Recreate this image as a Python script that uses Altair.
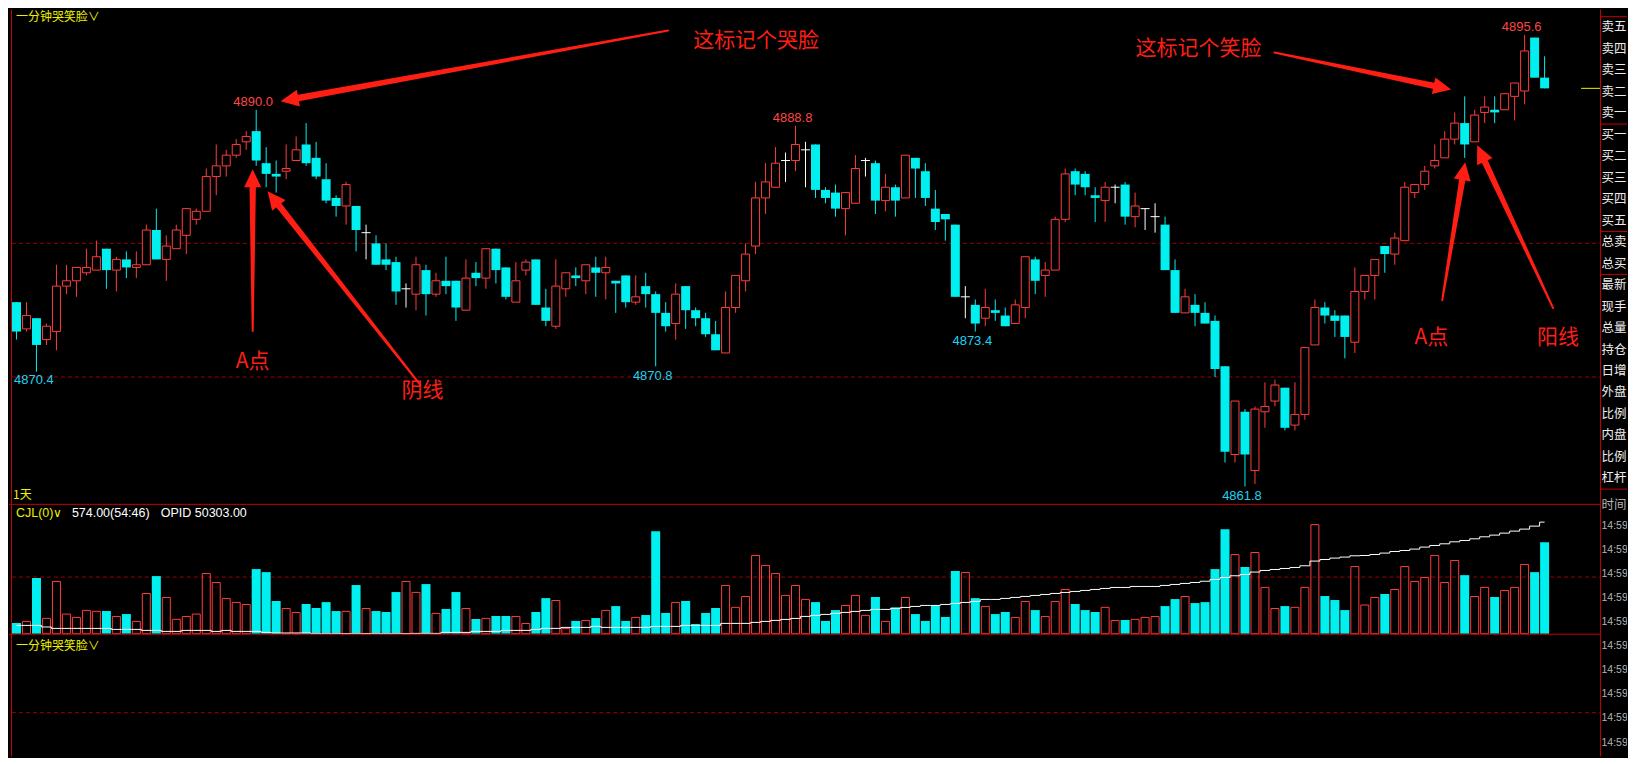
import math
import pandas as pd
import altair as alt

# ---------------- data ----------------
OPEN = [
    4875.6, 4873.6, 4874.4, 4872.8, 4873.4, 4876.8, 4877.2, 4877.8, 4878.0, 4879.6,
    4878.0, 4878.8, 4878.2, 4878.4, 4881.0, 4878.8, 4879.6, 4880.6, 4881.8, 4882.4,
    4885.0, 4885.8, 4886.6, 4887.6, 4888.4, 4886.0, 4885.2, 4885.4, 4886.2, 4887.4,
    4886.4, 4884.8, 4883.4, 4882.8, 4882.8, 4880.8, 4880.0, 4878.8, 4878.6, 4876.6,
    4876.2, 4878.0, 4876.2, 4877.2, 4877.2, 4875.0, 4877.8, 4877.4, 4879.6, 4878.2,
    4875.6, 4878.0, 4878.8, 4875.2, 4873.8, 4876.6, 4877.6, 4877.2, 4878.2, 4877.8,
    4877.2, 4877.6, 4875.6, 4876.8, 4876.2, 4874.8, 4874.0, 4876.8, 4875.0, 4874.4,
    4873.2, 4871.8, 4875.2, 4877.2, 4879.8, 4883.4, 4884.2, 4886.2, 4886.2, 4887.0,
    4887.4, 4884.0, 4883.8, 4882.6, 4883.0, 4886.2, 4886.0, 4883.2, 4884.2, 4883.4,
    4886.4, 4885.4, 4882.6, 4882.2, 4881.4, 4876.0, 4875.4, 4874.4, 4875.0, 4874.6,
    4874.0, 4875.2, 4878.8, 4877.6, 4878.0, 4881.8, 4885.4, 4885.2, 4883.6, 4883.2,
    4884.2, 4884.4, 4882.0, 4882.6, 4882.0, 4881.4, 4878.0, 4874.8, 4875.4, 4874.8,
    4874.2, 4870.8, 4864.2, 4867.4, 4863.0, 4867.4, 4868.2, 4869.2, 4866.4, 4867.2,
    4872.4, 4875.2, 4874.6, 4874.6, 4872.6, 4876.4, 4877.6, 4879.8, 4879.2, 4880.2,
    4883.8, 4884.4, 4885.8, 4886.4, 4887.8, 4889.0, 4887.6, 4889.8, 4890.0, 4890.0,
    4891.0, 4891.4, 4895.4, 4892.4,
]
HIGH = [
    4875.6, 4875.6, 4874.4, 4874.0, 4878.4, 4878.4, 4878.2, 4879.6, 4880.2, 4879.6,
    4879.0, 4879.4, 4879.4, 4881.4, 4882.6, 4880.6, 4881.4, 4882.6, 4882.6, 4885.6,
    4887.4, 4887.0, 4887.8, 4888.4, 4890.0, 4887.2, 4886.2, 4887.4, 4888.0, 4889.0,
    4887.6, 4886.0, 4883.6, 4884.6, 4882.8, 4881.4, 4880.6, 4880.0, 4879.0, 4877.0,
    4879.0, 4878.4, 4877.8, 4879.0, 4877.2, 4878.8, 4878.6, 4879.6, 4879.6, 4878.2,
    4878.6, 4878.8, 4878.8, 4876.6, 4878.8, 4877.8, 4878.2, 4878.4, 4879.0, 4879.0,
    4877.2, 4877.6, 4877.6, 4877.8, 4876.4, 4875.6, 4877.0, 4876.8, 4875.2, 4874.8,
    4874.2, 4876.4, 4877.6, 4880.0, 4884.6, 4886.0, 4887.2, 4886.8, 4888.8, 4887.6,
    4887.4, 4884.2, 4884.4, 4883.8, 4886.6, 4886.4, 4886.2, 4885.2, 4884.4, 4886.6,
    4886.4, 4886.0, 4884.0, 4882.2, 4881.4, 4876.8, 4875.8, 4876.6, 4875.8, 4875.2,
    4875.8, 4879.0, 4879.0, 4878.6, 4882.0, 4885.6, 4885.6, 4885.4, 4884.2, 4884.6,
    4884.4, 4884.6, 4883.8, 4882.6, 4883.0, 4882.0, 4878.8, 4876.6, 4876.2, 4875.6,
    4874.6, 4870.8, 4868.2, 4867.6, 4867.8, 4869.6, 4869.8, 4869.2, 4869.6, 4872.2,
    4875.8, 4875.6, 4875.0, 4874.6, 4878.2, 4877.6, 4878.8, 4879.8, 4880.8, 4884.6,
    4884.4, 4885.8, 4887.4, 4888.4, 4889.8, 4891.0, 4890.0, 4891.0, 4891.0, 4891.2,
    4892.0, 4895.6, 4895.4, 4894.0,
]
LOW = [
    4872.8, 4873.4, 4870.4, 4872.4, 4872.0, 4876.2, 4876.0, 4877.6, 4878.0, 4876.6,
    4876.4, 4877.4, 4877.4, 4878.4, 4878.8, 4877.2, 4879.6, 4879.2, 4881.4, 4882.4,
    4883.6, 4885.0, 4886.4, 4887.0, 4885.8, 4884.2, 4883.8, 4884.8, 4886.2, 4885.8,
    4884.8, 4883.0, 4882.0, 4881.4, 4879.4, 4878.8, 4878.4, 4878.0, 4875.4, 4875.2,
    4875.0, 4874.6, 4876.0, 4876.2, 4874.2, 4875.0, 4876.8, 4876.6, 4877.0, 4875.8,
    4875.6, 4877.6, 4875.4, 4873.8, 4873.6, 4876.0, 4876.8, 4876.2, 4876.0, 4875.8,
    4874.8, 4875.2, 4875.4, 4875.2, 4870.8, 4873.4, 4872.8, 4873.6, 4873.8, 4873.0,
    4872.0, 4871.8, 4874.8, 4876.4, 4879.2, 4882.2, 4884.2, 4884.6, 4885.4, 4884.2,
    4883.4, 4883.0, 4882.0, 4880.6, 4883.0, 4885.0, 4882.2, 4882.4, 4882.0, 4883.4,
    4883.4, 4882.8, 4881.0, 4880.2, 4876.0, 4874.4, 4873.4, 4873.8, 4874.2, 4873.8,
    4874.0, 4874.4, 4876.2, 4876.0, 4878.0, 4881.6, 4883.6, 4883.6, 4881.6, 4881.6,
    4883.0, 4881.4, 4881.2, 4881.0, 4880.8, 4878.0, 4874.8, 4874.8, 4873.8, 4874.0,
    4870.0, 4863.6, 4863.6, 4861.8, 4862.0, 4866.2, 4867.8, 4866.0, 4866.0, 4866.8,
    4872.4, 4874.0, 4873.0, 4871.4, 4871.8, 4875.8, 4875.8, 4877.8, 4878.4, 4880.2,
    4883.4, 4884.0, 4885.6, 4886.4, 4887.4, 4886.4, 4887.6, 4889.0, 4889.0, 4890.0,
    4889.2, 4890.4, 4892.4, 4891.6,
]
CLOSE = [
    4873.4, 4874.6, 4872.4, 4873.8, 4876.8, 4877.2, 4878.2, 4878.2, 4879.0, 4878.0,
    4878.8, 4878.2, 4878.4, 4881.0, 4878.8, 4879.8, 4881.0, 4882.6, 4882.4, 4885.0,
    4885.8, 4886.6, 4887.4, 4888.0, 4886.2, 4885.2, 4885.0, 4885.6, 4887.0, 4886.0,
    4885.0, 4883.2, 4882.8, 4884.4, 4881.0, 4880.8, 4878.4, 4878.4, 4876.4, 4876.6,
    4878.4, 4876.2, 4877.2, 4876.8, 4875.2, 4877.4, 4877.4, 4879.6, 4878.0, 4876.0,
    4877.2, 4878.6, 4875.4, 4874.2, 4876.8, 4877.8, 4877.4, 4878.4, 4877.8, 4878.2,
    4877.0, 4875.6, 4876.0, 4876.2, 4874.8, 4873.8, 4876.2, 4875.0, 4874.4, 4873.2,
    4872.0, 4875.2, 4877.6, 4879.2, 4883.4, 4884.6, 4886.0, 4886.2, 4887.4, 4887.0,
    4884.0, 4883.4, 4882.6, 4883.8, 4885.6, 4886.2, 4883.2, 4884.2, 4883.2, 4886.6,
    4885.6, 4883.4, 4881.6, 4881.8, 4876.0, 4876.0, 4874.0, 4875.2, 4874.8, 4873.8,
    4875.4, 4879.0, 4877.2, 4878.0, 4881.8, 4885.2, 4884.4, 4884.2, 4883.4, 4884.2,
    4884.2, 4882.0, 4882.8, 4882.6, 4882.0, 4878.0, 4874.8, 4876.0, 4874.8, 4874.0,
    4870.6, 4864.4, 4868.2, 4864.2, 4867.6, 4867.8, 4869.4, 4866.2, 4867.2, 4872.2,
    4875.2, 4874.6, 4874.2, 4873.0, 4876.4, 4877.6, 4878.8, 4879.2, 4880.4, 4884.2,
    4884.4, 4885.4, 4886.2, 4887.8, 4889.0, 4887.4, 4889.6, 4890.2, 4889.8, 4891.2,
    4892.0, 4894.4, 4892.4, 4891.6,
]
VOLUME = [
    67, 77, 349, 96, 327, 123, 102, 146, 140, 142,
    108, 123, 77, 252, 361, 227, 90, 108, 123, 377,
    321, 221, 196, 183, 405, 386, 205, 158, 133, 186,
    161, 198, 142, 140, 305, 158, 142, 136, 261, 327,
    259, 311, 127, 155, 261, 158, 92, 96, 111, 111,
    108, 64, 136, 223, 208, 33, 80, 83, 98, 146,
    173, 80, 102, 117, 643, 130, 196, 205, 61, 130,
    161, 302, 165, 233, 490, 428, 377, 240, 302, 215,
    198, 80, 148, 177, 240, 115, 230, 77, 165, 227,
    123, 80, 177, 105, 393, 384, 223, 171, 123, 136,
    102, 202, 148, 108, 202, 277, 186, 148, 136, 165,
    83, 86, 90, 102, 108, 173, 217, 233, 192, 198,
    405, 655, 496, 418, 509, 290, 158, 173, 165, 290,
    684, 236, 211, 148, 421, 180, 227, 249, 277, 421,
    327, 352, 490, 321, 459, 367, 233, 290, 230, 271,
    290, 434, 386, 574,
]
OPID = [
    49269, 49269, 49269, 49253, 49239, 49239, 49239, 49239, 49239, 49239,
    49229, 49229, 49229, 49219, 49219, 49209, 49209, 49219, 49219, 49219,
    49209, 49219, 49209, 49209, 49209, 49199, 49193, 49193, 49193, 49193,
    49187, 49187, 49187, 49187, 49187, 49187, 49187, 49187, 49187, 49187,
    49189, 49189, 49189, 49199, 49199, 49199, 49209, 49209, 49209, 49219,
    49219, 49219, 49229, 49239, 49239, 49249, 49249, 49249, 49259, 49249,
    49249, 49249, 49249, 49249, 49259, 49259, 49259, 49269, 49269, 49269,
    49269, 49289, 49289, 49289, 49299, 49309, 49319, 49329, 49339, 49359,
    49369, 49379, 49389, 49399, 49409, 49419, 49429, 49429, 49439, 49449,
    49459, 49469, 49469, 49479, 49489, 49499, 49509, 49529, 49529, 49539,
    49549, 49559, 49569, 49579, 49589, 49599, 49609, 49619, 49629, 49639,
    49649, 49649, 49659, 49659, 49659, 49669, 49679, 49689, 49699, 49711,
    49729, 49749, 49766, 49779, 49803, 49819, 49829, 49839, 49849, 49866,
    49913, 49929, 49943, 49953, 49966, 49969, 49979, 49993, 50009, 50019,
    50033, 50053, 50069, 50086, 50106, 50119, 50136, 50156, 50173, 50193,
    50213, 50233, 50263, 50303,
]

HIGH_LABEL_IDX = [24, 78, 151]
LOW_LABEL_IDX = [64, 96, 123]
EDGE_LOW_IDX = [2]
PRICE_GRID = [4870, 4880]
VOL_GRID = [355]
SUB_GRID = [0.5]

# annotation arrows (bar index / price of tail and tip)
ARROW_TAIL_I = [65.25, 23.65, 40.45, 125.95, 142.75, 153.85]
ARROW_TAIL_P = [4895.93, 4873.44, 4869.40, 4894.29, 4875.75, 4875.16]
ARROW_TIP_I = [26.45, 23.65, 25.15, 143.65, 145.05, 146.25]
ARROW_TIP_P = [4890.63, 4885.55, 4883.90, 4891.52, 4886.07, 4887.34]
NOTE_TEXT = ["这标记个哭脸", "A点", "阴线", "这标记个笑脸", "A点", "阳线"]
NOTE_I = [74.05, 23.65, 40.65, 118.35, 141.65, 154.35]
NOTE_P = [4895.11, 4871.12, 4868.95, 4894.51, 4872.91, 4872.91]

BOOK_LABELS = ["卖五", "卖四", "卖三", "卖二", "卖一", "买一", "买二", "买三", "买四", "买五",
               "总卖", "总买", "最新", "现手", "总量", "持仓", "日增", "外盘", "比例", "内盘",
               "比例", "杠杆"]
BOOK_BREAKS = [-0.5, 4.5, 9.5, 11.5, 21.5]
TIME_HEADER = ["时间"]
TIME_ROWS = ["", "14:59", "14:59", "14:59", "14:59", "14:59",
             "14:59", "14:59", "14:59", "14:59", "14:59"]

INDICATOR = "一分钟哭笑脸∨"
PERIOD = "1天"
CJL_NAME = "CJL(0)∨"
CJL_VALUE = "574.00(54:46)"
OPID_TEXT = "OPID 50303.00"

# ---------------- style / layout ----------------
BG = "#000000"
UP = "#ff3c3c"
DN = "#00f0f0"
DOJI = "#ffffff"
FRAME = "#c80000"
GRID = "#9a0000"
ARROW = "#ff1e14"
YELLOW = "#f0f000"
LBL_UP = "#ff4646"
LBL_DN = "#1ed2f0"
NUM_FONT = "Liberation Sans"
CJK_FONT = "Noto Sans CJK SC"

W_MAIN, W_RIGHT = 1593, 27
W_ALL = W_MAIN + W_RIGHT
H_MAIN, H_VOL, H_SUB = 495, 130, 123
TOP_MAIN, TOP_VOL, TOP_SUB = 0, H_MAIN, H_MAIN + H_VOL

X_DOM = [-0.75, -0.75 + W_ALL / 10.0]
PX_PER_PRICE = 13.38
P_TOP = 4870 + 368 / PX_PER_PRICE
P_BOT = P_TOP - H_MAIN / PX_PER_PRICE
VOL_MAX = 814
OPID_DOM = [49186, 50486]
SUB_DOM = [0, 1.4]

xs = alt.Scale(domain=X_DOM, nice=False, zero=False)
ys = alt.Scale(domain=[P_BOT, P_TOP], nice=False, zero=False)
vys = alt.Scale(domain=[0, VOL_MAX], nice=False, zero=False)


def X(f):
    return alt.X(f, scale=xs, axis=None)


def Y(f, sc):
    return alt.Y(f, scale=sc, axis=None)


def row_scale(first_px, step, top, height):
    # row k sits at first_px + step*k (whole-column pixels); this panel spans [top, top+height]
    lo = (top - first_px) / step
    hi = (top + height - first_px) / step
    return alt.Scale(domain=[lo, hi], reverse=True, nice=False, zero=False)


n = len(OPEN)
df = pd.DataFrame({"i": list(range(n)), "o": OPEN, "h": HIGH, "l": LOW, "c": CLOSE,
                   "v": VOLUME, "opid": OPID})
df["kind"] = ["up" if c > o else ("down" if c < o else "doji") for o, c in zip(OPEN, CLOSE)]
df["xa"] = df["i"] - 0.45
df["xb"] = df["i"] + 0.45
df["xc"] = df["i"] - 0.4
df["xd"] = df["i"] + 0.4
df["zero"] = 0

one = pd.DataFrame({"a": [0]})
book_df = pd.DataFrame({"k": list(range(len(BOOK_LABELS))), "t": BOOK_LABELS})
time_df = pd.DataFrame({"k": list(range(len(TIME_ROWS))), "t": TIME_ROWS})


def frame_layers(height, top_line=True):
    out = [
        alt.Chart(one).mark_rule(color=FRAME).encode(
            x=alt.value(2.5), y=alt.value(0), y2=alt.value(height)),
        alt.Chart(one).mark_rule(color=FRAME).encode(
            x=alt.value(W_MAIN + 0.5), y=alt.value(0), y2=alt.value(height)),
    ]
    if top_line:
        out.append(alt.Chart(one).mark_rule(color=FRAME).encode(
            y=alt.value(0.5), x=alt.value(0), x2=alt.value(W_MAIN)))
    return out


def time_layer(top, height, kmin, kmax):
    sc = row_scale(493, 24.1, top, height)
    return alt.Chart(time_df).transform_filter(
        f"datum.k >= {kmin} && datum.k <= {kmax}").mark_text(
        font=NUM_FONT, fontSize=10.5, color="#b4b4b4", align="left", baseline="middle",
        clip=True).encode(x=alt.value(W_MAIN + 1.5), y=Y("k:Q", sc), text="t:N")


# ---------------- main price panel ----------------
grid_main = alt.Chart(pd.DataFrame({"p": PRICE_GRID})).mark_rule(
    color=GRID, strokeDash=[4, 3], strokeWidth=1
).encode(y=Y("p:Q", ys), x=alt.value(3), x2=alt.value(W_MAIN))

candles = alt.Chart(df)
wicks = candles.mark_rule(strokeWidth=1).encode(
    x=X("i:Q"), y=Y("l:Q", ys), y2="h:Q",
    color=alt.Color("kind:N", scale=alt.Scale(domain=["up", "down", "doji"], range=[UP, DN, DOJI]),
                    legend=None),
)
body_dn = candles.transform_filter("datum.kind == 'down'").mark_rect(color=DN).encode(
    x=X("xa:Q"), x2="xb:Q", y=Y("o:Q", ys), y2="c:Q")
body_up = candles.transform_filter("datum.kind == 'up'").mark_rect(
    fill=BG, stroke=UP, strokeWidth=1).encode(x=X("xc:Q"), x2="xd:Q", y=Y("o:Q", ys), y2="c:Q")
body_doji = candles.transform_filter("datum.kind == 'doji'").mark_rule(
    color=DOJI, strokeWidth=1).encode(x=X("xa:Q"), x2="xb:Q", y=Y("o:Q", ys))

hi_df = pd.DataFrame({"i": HIGH_LABEL_IDX, "p": [HIGH[k] for k in HIGH_LABEL_IDX]})
hi_df["t"] = [f"{v:.1f}" for v in hi_df["p"]]
lo_df = pd.DataFrame({"i": LOW_LABEL_IDX, "p": [LOW[k] for k in LOW_LABEL_IDX]})
lo_df["t"] = [f"{v:.1f}" for v in lo_df["p"]]
edge_df = pd.DataFrame({"i": EDGE_LOW_IDX, "p": [LOW[k] for k in EDGE_LOW_IDX]})
edge_df["t"] = [f"{v:.1f}" for v in edge_df["p"]]

hi_txt = alt.Chart(hi_df).mark_text(font=NUM_FONT, fontSize=13, color=LBL_UP, align="center",
                                    baseline="alphabetic", dx=-3, dy=-3.5).encode(
    x=X("i:Q"), y=Y("p:Q", ys), text="t:N")
lo_txt = alt.Chart(lo_df).mark_text(font=NUM_FONT, fontSize=13, color=LBL_DN, align="center",
                                    baseline="alphabetic", dx=-3, dy=13.5).encode(
    x=X("i:Q"), y=Y("p:Q", ys), text="t:N")
edge_txt = alt.Chart(edge_df).mark_text(font=NUM_FONT, fontSize=13, color=LBL_DN, align="left",
                                        baseline="alphabetic", dx=-22.5, dy=12.5).encode(
    x=X("i:Q"), y=Y("p:Q", ys), text="t:N")

# arrows: tapered shaft (trail) + triangular head
PX_X = W_ALL / (X_DOM[1] - X_DOM[0])
PX_Y = H_MAIN / (P_TOP - P_BOT)
HEAD = 18.0
trail_rows, head_rows = [], []
for a, (ti, tp, hi_, hp) in enumerate(zip(ARROW_TAIL_I, ARROW_TAIL_P, ARROW_TIP_I, ARROW_TIP_P)):
    dx = (hi_ - ti) * PX_X
    dy = -(hp - tp) * PX_Y
    L = math.hypot(dx, dy)
    ux, uy = dx / L, dy / L
    bi = hi_ - (HEAD - 4) * ux / PX_X
    bp = hp + (HEAD - 4) * uy / PX_Y
    trail_rows.append({"id": a, "k": 0, "i": ti, "p": tp, "w": 2.0})
    trail_rows.append({"id": a, "k": 1, "i": bi, "p": bp, "w": 6.5})
    head_rows.append({"i": hi_ - HEAD / 2 * ux / PX_X, "p": hp + HEAD / 2 * uy / PX_Y,
                      "ang": math.degrees(math.atan2(ux, -uy)) % 360})

shaft = alt.Chart(pd.DataFrame(trail_rows)).mark_trail(color=ARROW).encode(
    x=X("i:Q"), y=Y("p:Q", ys), size=alt.Size("w:Q", scale=None, legend=None),
    detail="id:N", order="k:Q")
heads = alt.Chart(pd.DataFrame(head_rows)).mark_point(
    shape="M0,-1L0.95,1L-0.95,1Z", filled=True, size=HEAD * HEAD, color=ARROW, opacity=1,
    strokeWidth=0).encode(x=X("i:Q"), y=Y("p:Q", ys), angle=alt.Angle("ang:Q", scale=None))
notes = alt.Chart(pd.DataFrame({"t": NOTE_TEXT, "i": NOTE_I, "p": NOTE_P})).mark_text(
    font=CJK_FONT, fontSize=21, color=ARROW, align="center", baseline="middle").encode(
    x=X("i:Q"), y=Y("p:Q", ys), text="t:N")

last_tick = alt.Chart(pd.DataFrame({"p": [CLOSE[-1]]})).mark_rule(color=YELLOW).encode(
    y=Y("p:Q", ys), x=alt.value(1574), x2=alt.value(W_MAIN))
ind_txt = alt.Chart(pd.DataFrame({"t": [INDICATOR]})).mark_text(
    font=CJK_FONT, fontSize=12, color=YELLOW, align="left", baseline="middle").encode(
    x=alt.value(7), y=alt.value(8), text="t:N")
period_txt = alt.Chart(pd.DataFrame({"t": [PERIOD]})).mark_text(
    font=CJK_FONT, fontSize=12, color=YELLOW, align="left", baseline="middle").encode(
    x=alt.value(4), y=alt.value(486), text="t:N")

# right-hand quote column, upper part
book_sc = row_scale(18, 21.5, TOP_MAIN, H_MAIN)
r_breaks = alt.Chart(pd.DataFrame({"k": BOOK_BREAKS})).mark_rule(color=FRAME).encode(
    y=Y("k:Q", book_sc), x=alt.value(W_MAIN), x2=alt.value(W_ALL))
r_book = alt.Chart(book_df).mark_text(
    font=CJK_FONT, fontSize=12.5, color="#ececec", align="left", baseline="middle").encode(
    x=alt.value(W_MAIN + 1.5), y=Y("k:Q", book_sc), text="t:N")
header_sc = row_scale(496, 24.1, TOP_MAIN, H_MAIN)
r_header = alt.Chart(pd.DataFrame({"k": [0], "t": TIME_HEADER})).mark_text(
    font=CJK_FONT, fontSize=12.5, color="#b4b4b4", align="left", baseline="middle").encode(
    x=alt.value(W_MAIN + 1.5), y=Y("k:Q", header_sc), text="t:N")

main = alt.layer(
    grid_main, wicks, body_dn, body_up, body_doji, hi_txt, lo_txt, edge_txt,
    shaft, heads, notes, last_tick, ind_txt, period_txt,
    *frame_layers(H_MAIN, top_line=False), r_breaks, r_book, r_header,
).resolve_scale(y="independent").properties(width=W_ALL, height=H_MAIN)

# ---------------- volume panel ----------------
vol_grid = alt.Chart(pd.DataFrame({"v": VOL_GRID})).mark_rule(
    color=GRID, strokeDash=[4, 3]).encode(y=Y("v:Q", vys), x=alt.value(3), x2=alt.value(W_MAIN))
vol_dn = candles.transform_filter("datum.c < datum.o").mark_rect(color=DN).encode(
    x=X("xa:Q"), x2="xb:Q", y=Y("v:Q", vys), y2="zero:Q")
vol_up = candles.transform_filter("datum.c >= datum.o").mark_rect(
    fill="transparent", stroke=UP, strokeWidth=1).encode(
    x=X("xc:Q"), x2="xd:Q", y=Y("v:Q", vys), y2="zero:Q")
opid_line = candles.mark_line(color="#ffffff", strokeWidth=1, interpolate="step").encode(
    x=X("i:Q"), y=Y("opid:Q", alt.Scale(domain=OPID_DOM, nice=False, zero=False)))
cjl_name = alt.Chart(pd.DataFrame({"t": [CJL_NAME]})).mark_text(
    font=NUM_FONT, fontSize=12.5, color=YELLOW, align="left", baseline="middle").encode(
    x=alt.value(7), y=alt.value(9), text="t:N")
cjl_val = alt.Chart(pd.DataFrame({"t": [CJL_VALUE]})).mark_text(
    font=NUM_FONT, fontSize=12.5, color="#ffffff", align="left", baseline="middle").encode(
    x=alt.value(63), y=alt.value(9), text="t:N")
opid_txt = alt.Chart(pd.DataFrame({"t": [OPID_TEXT]})).mark_text(
    font=NUM_FONT, fontSize=12.5, color="#ffffff", align="left", baseline="middle").encode(
    x=alt.value(152), y=alt.value(9), text="t:N")

vol = alt.layer(
    vol_grid, vol_dn, vol_up, opid_line, cjl_name, cjl_val, opid_txt,
    *frame_layers(H_VOL), time_layer(TOP_VOL, H_VOL, 1, 5),
).resolve_scale(y="independent").properties(width=W_ALL, height=H_VOL)

# ---------------- empty indicator panel ----------------
sub_grid = alt.Chart(pd.DataFrame({"g": SUB_GRID})).mark_rule(
    color=GRID, strokeDash=[4, 3]).encode(
    y=Y("g:Q", alt.Scale(domain=SUB_DOM, nice=False, zero=False)), x=alt.value(3),
    x2=alt.value(W_MAIN))
sub_txt = alt.Chart(pd.DataFrame({"t": [INDICATOR]})).mark_text(
    font=CJK_FONT, fontSize=12, color=YELLOW, align="left", baseline="middle").encode(
    x=alt.value(7), y=alt.value(12), text="t:N")
sub = alt.layer(
    sub_grid, sub_txt, *frame_layers(H_SUB), time_layer(TOP_SUB, H_SUB, 6, 10),
).resolve_scale(y="independent").properties(width=W_ALL, height=H_SUB)

chart = alt.vconcat(main, vol, sub, spacing=0, bounds="flush", padding=0,
                    background=BG).configure_view(stroke=None)

chart.save("out.html", embed_options={"renderer": "svg", "actions": False})
